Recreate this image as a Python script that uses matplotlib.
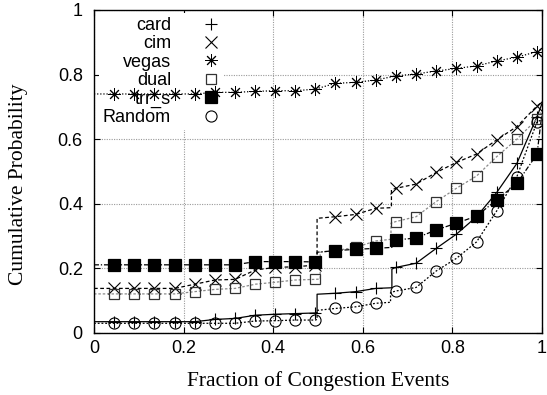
import matplotlib
matplotlib.use("Agg")
import matplotlib.pyplot as plt
from matplotlib.lines import Line2D

# marker positions along the x axis (every 4th congestion event)
MARK_X = [0.045, 0.090, 0.135, 0.180, 0.225, 0.270, 0.315, 0.360, 0.404, 0.449, 0.494,
          0.539, 0.584, 0.629, 0.674, 0.719, 0.764, 0.809, 0.854, 0.899, 0.944, 0.989]

card_mark = [0.035, 0.035, 0.035, 0.035, 0.035, 0.042, 0.045, 0.055, 0.058, 0.060, 0.062,
             0.123, 0.128, 0.138, 0.203, 0.216, 0.262, 0.306, 0.360, 0.435, 0.525, 0.670]
cim_mark = [0.138, 0.138, 0.138, 0.138, 0.151, 0.164, 0.166, 0.195, 0.203, 0.205, 0.210,
            0.360, 0.367, 0.386, 0.448, 0.461, 0.497, 0.528, 0.554, 0.598, 0.639, 0.703]
vegas_mark = [0.740, 0.740, 0.740, 0.740, 0.740, 0.745, 0.745, 0.748, 0.750, 0.750, 0.755,
              0.773, 0.776, 0.783, 0.796, 0.802, 0.811, 0.819, 0.827, 0.842, 0.854, 0.871]
dual_mark = [0.121, 0.121, 0.121, 0.121, 0.128, 0.135, 0.138, 0.151, 0.157, 0.164, 0.166,
             0.255, 0.265, 0.285, 0.345, 0.360, 0.407, 0.448, 0.486, 0.546, 0.600, 0.662]
trr_mark = [0.211, 0.211, 0.211, 0.211, 0.211, 0.211, 0.211, 0.221, 0.221, 0.221, 0.220,
            0.255, 0.259, 0.262, 0.288, 0.294, 0.319, 0.340, 0.362, 0.412, 0.463, 0.554]
random_mark = [0.030, 0.030, 0.030, 0.030, 0.030, 0.030, 0.030, 0.037, 0.038, 0.040, 0.040,
               0.076, 0.081, 0.092, 0.130, 0.141, 0.192, 0.231, 0.282, 0.378, 0.484, 0.654]

# full CDF lines (start, jumps, end) around the marked points
card_x = [0.0] + MARK_X[:11] + [0.498, 0.498] + MARK_X[11:14] + [0.665, 0.665] + MARK_X[14:] + [1.0]
card_y = [0.035] + card_mark[:11] + [0.063, 0.120] + card_mark[11:14] + [0.140, 0.198] + card_mark[14:] + [0.710]
cim_x = [0.0] + MARK_X[:11] + [0.498, 0.498] + MARK_X[11:14] + [0.664, 0.664] + MARK_X[14:] + [1.0]
cim_y = [0.138] + cim_mark[:11] + [0.210, 0.355] + cim_mark[11:14] + [0.388, 0.443] + cim_mark[14:] + [0.715]
vegas_x = [0.0] + MARK_X + [1.0]
vegas_y = [0.740] + vegas_mark + [0.880]
dual_x = [0.0] + MARK_X[:11] + [0.505, 0.505] + MARK_X[11:14] + [0.663, 0.663] + MARK_X[14:] + [1.0]
dual_y = [0.121] + dual_mark[:11] + [0.167, 0.250] + dual_mark[11:14] + [0.290, 0.340] + dual_mark[14:] + [0.690]
trr_x = [0.0] + MARK_X[:11] + [0.498, 0.498] + MARK_X[11:14] + [0.665, 0.665] + MARK_X[14:] + [1.0]
trr_y = [0.211] + trr_mark[:11] + [0.222, 0.250] + trr_mark[11:14] + [0.265, 0.285] + trr_mark[14:] + [0.680]
random_x = [0.0] + MARK_X[:11] + [0.498, 0.498] + MARK_X[11:14] + [0.662, 0.662] + MARK_X[14:] + [1.0]
random_y = [0.030] + random_mark[:11] + [0.042, 0.070] + random_mark[11:14] + [0.095, 0.125] + random_mark[14:] + [0.660]

ASTERISK = (8, 2, 0)

series = [
    ("card", card_x, card_y, card_mark, "black", "-", dict(marker="+", ms=9, mew=0.8)),
    ("cim", cim_x, cim_y, cim_mark, "black", (0, (3, 2)), dict(marker="x", ms=8, mew=0.8)),
    ("vegas", vegas_x, vegas_y, vegas_mark, "black", (0, (1, 1.5)), dict(marker=ASTERISK, ms=9, mew=0.7)),
    ("dual", dual_x, dual_y, dual_mark, "#8a8a8a", (0, (2, 1.5)), dict(marker="s", ms=7, mew=0.9, mfc="none", mec="#333333")),
    ("trr_s", trr_x, trr_y, trr_mark, "black", (0, (4, 1.5, 1, 1.5)), dict(marker="s", ms=8, mew=0.9, mfc="black", mec="black")),
    ("Random", random_x, random_y, random_mark, "black", (0, (1.5, 1.5)), dict(marker="o", ms=8, mew=0.8, mfc="none", mec="black")),
]

plt.rcParams["font.family"] = ["Liberation Sans", "DejaVu Sans"]

fig = plt.figure(figsize=(5.47, 3.95), dpi=100)
ax = fig.add_axes([0.1718, 0.157, 0.819, 0.8177])

handles = []
for label, lx, ly, my, color, ls, mk in series:
    ax.plot(lx, ly, color=color, ls=ls, lw=0.9, zorder=2)
    ax.plot(MARK_X, my, ls="none", color="black", zorder=3, **mk)
    handles.append(Line2D([], [], ls="none", color="black", **mk, label=label))

ax.set_xlim(0, 1)
ax.set_ylim(0, 1)
ticks = [0, 0.2, 0.4, 0.6, 0.8, 1]
ax.set_xticks(ticks)
ax.set_yticks(ticks)
ax.set_xticklabels(["0", "0.2", "0.4", "0.6", "0.8", "1"])
ax.set_yticklabels(["0", "0.2", "0.4", "0.6", "0.8", "1"])
ax.tick_params(direction="in", length=4, width=0.8, top=True, right=True, labelsize=13)
ax.tick_params(axis="x", pad=5)
ax.tick_params(axis="y", pad=8)
ax.set_axisbelow(True)
ax.grid(True, color="#9a9a9a", ls=(0, (1, 1.2)), lw=0.8)
for s in ax.spines.values():
    s.set_linewidth(1.0)

ax.set_xlabel("Fraction of Congestion Events", family="Liberation Serif", fontsize=15.5, labelpad=10)
ax.set_ylabel("Cumulative Probability", family="Liberation Serif", fontsize=15.5)
ax.yaxis.set_label_coords(-0.148, 0.46)

leg = ax.legend(handles=handles, loc="upper left", bbox_to_anchor=(0.012, 0.99),
                markerfirst=False, frameon=True, fontsize=13, labelspacing=0.08,
                handlelength=1.0, handletextpad=1.7, borderpad=0.2, borderaxespad=0.0,
                fancybox=False)
leg.get_frame().set_facecolor("white")
leg.get_frame().set_edgecolor("none")
leg.get_frame().set_alpha(1.0)
leg.set_zorder(1.8)

fig.savefig("out.png", dpi=100)
